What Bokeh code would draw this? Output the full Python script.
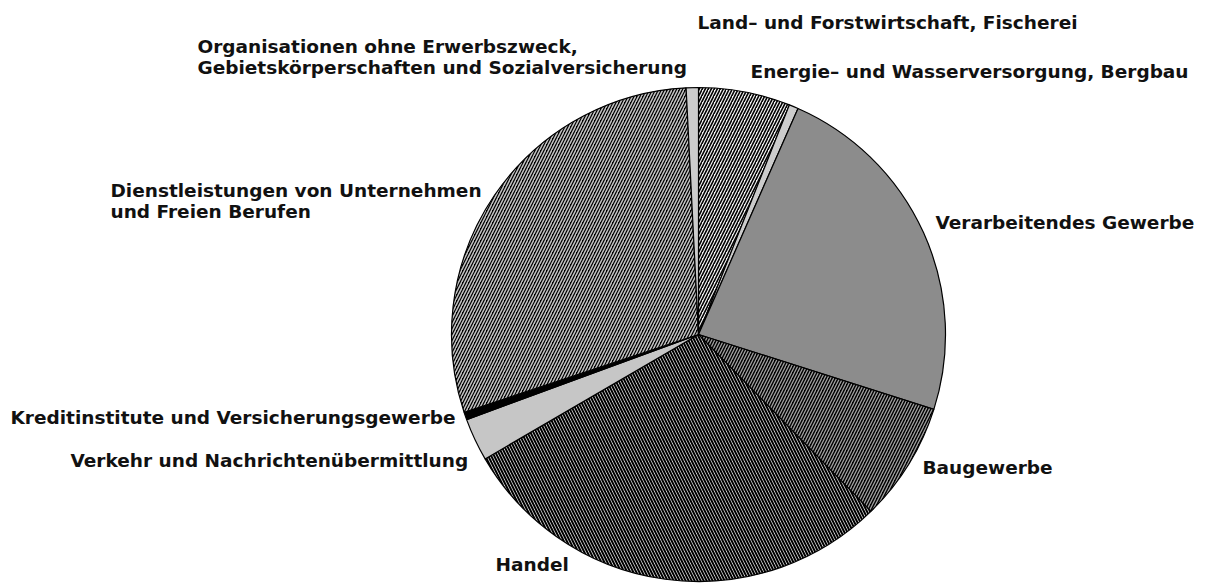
import math
from bokeh.plotting import figure
from bokeh.models import Range1d, ColumnDataSource
from bokeh.core.properties import value
from bokeh.embed import file_html
from bokeh.resources import INLINE

# ---- data (share in percent, clockwise from 12 o'clock) ----
sectors = [
    "Land- und Forstwirtschaft, Fischerei",
    "Energie- und Wasserversorgung, Bergbau",
    "Verarbeitendes Gewerbe",
    "Baugewerbe",
    "Handel",
    "Verkehr und Nachrichtenübermittlung",
    "Kreditinstitute und Versicherungsgewerbe",
    "Dienstleistungen von Unternehmen und Freien Berufen",
    "Organisationen ohne Erwerbszweck, Gebietskörperschaften und Sozialversicherung",
]
shares = [6.0, 0.6, 23.3, 7.8, 28.9, 2.8, 0.5, 29.3, 0.8]

# label texts (as printed, possibly on two lines)
label_lines = [
    ["Land\u2013 und Forstwirtschaft, Fischerei"],
    ["Energie\u2013 und Wasserversorgung, Bergbau"],
    ["Verarbeitendes Gewerbe"],
    ["Baugewerbe"],
    ["Handel"],
    ["Verkehr und Nachrichtenübermittlung"],
    ["Kreditinstitute und Versicherungsgewerbe"],
    ["Dienstleistungen von Unternehmen", "und Freien Berufen"],
    ["Organisationen ohne Erwerbszweck,", "Gebietskörperschaften und Sozialversicherung"],
]

# ---- styles (per slice) ----
styles = [
    dict(fill="#f2f2f2", hatch="/", hcol="#000000", hscale=6, hweight=1.6),    # Land
    dict(fill="#cccccc", hatch=None),                                           # Energie
    dict(fill="#8c8c8c", hatch=None),                                           # Verarb.
    dict(fill="#000000", hatch="/", hcol="#a0a0a0", hscale=6, hweight=1.3),    # Bau
    dict(fill="#ececec", hatch="\\", hcol="#000000", hscale=6, hweight=2.0),   # Handel
    dict(fill="#c6c6c6", hatch=None),                                           # Verkehr
    dict(fill="#000000", hatch=None),                                           # Kredit
    dict(fill="#000000", hatch="/", hcol="#c4c4c4", hscale=6, hweight=1.5),    # Dienst
    dict(fill="#cccccc", hatch=None),                                           # Org
]

# label anchor (left x, y of first line middle), in page pixel coords
label_pos = [
    (697, 22), (750, 71), (935, 222), (922, 467), (495, 564),
    (70, 460), (10, 417), (110, 190), (197, 46),
]
line_gap = 21

W, H = 1207, 583
p = figure(width=W, height=H, output_backend="svg", toolbar_location=None,
           x_range=Range1d(0, W), y_range=Range1d(-H, 0),
           min_border=0, outline_line_color=None)
p.axis.visible = False
p.grid.visible = False
p.background_fill_color = "white"
p.border_fill_color = "white"

cx, cy, r = 698, 334, 247

total = sum(shares)
cum = 0.0
for s, st in zip(shares, styles):
    a0 = math.pi / 2 - 2 * math.pi * cum / total
    cum += s
    a1 = math.pi / 2 - 2 * math.pi * cum / total
    kw = dict(x=cx, y=-cy, radius=r, radius_units="screen",
              start_angle=a0, end_angle=a1, direction="clock",
              fill_color=st["fill"], line_color="#000000", line_width=1.2)
    if st.get("hatch"):
        kw.update(hatch_pattern=st["hatch"], hatch_color=st["hcol"],
                  hatch_scale=st["hscale"], hatch_weight=st["hweight"])
    p.wedge(**kw)

xs, ys, ts = [], [], []
for lines, (lx, ly) in zip(label_lines, label_pos):
    for i, t in enumerate(lines):
        xs.append(lx)
        ys.append(-(ly + i * line_gap))
        ts.append(t)
src = ColumnDataSource(dict(x=xs, y=ys, t=ts))
p.text(x="x", y="y", text="t", source=src, text_font=value("DejaVu Sans"),
       text_font_size="18.5px", text_font_style="bold", text_baseline="middle",
       text_align="left", text_color="#111111")

open("out.html", "w").write(file_html(p, INLINE))
